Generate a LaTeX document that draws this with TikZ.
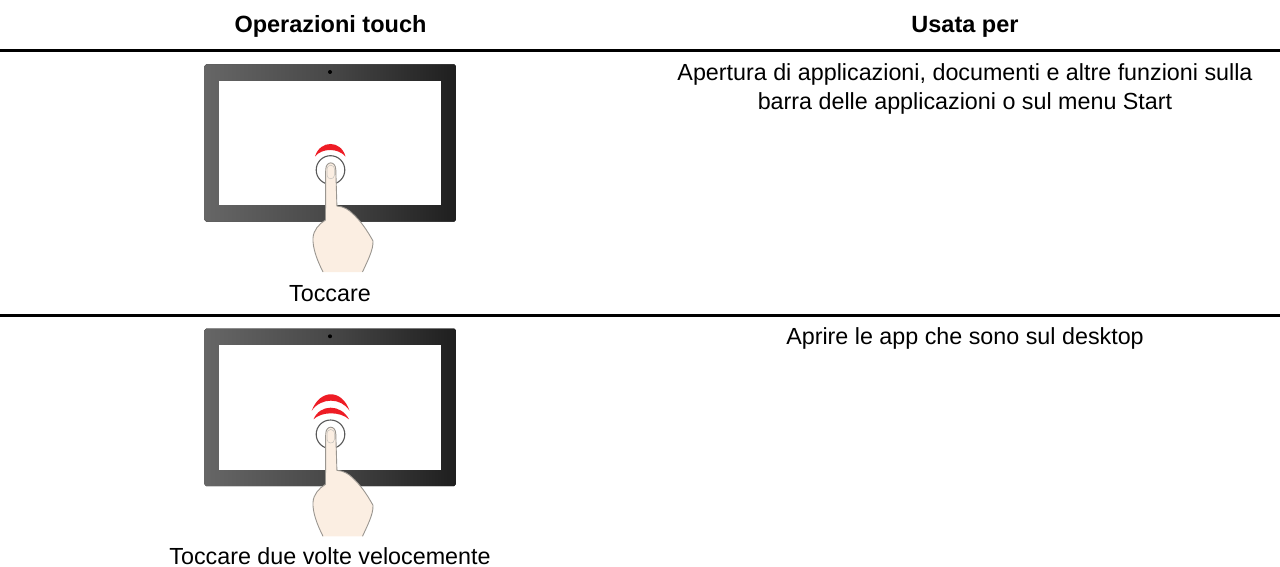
\documentclass[tikz,border=0pt]{standalone}
\usepackage{fontspec}
\setmainfont{Liberation Sans}
\definecolor{skin}{HTML}{FBEEE2}
\definecolor{skinline}{HTML}{9A9690}
\definecolor{redarc}{HTML}{EE1C25}
\tikzset{
  lbl/.style={font=\fontsize{23.3}{28}\selectfont, text=black, align=center, inner sep=0pt, anchor=base},
  hdr/.style={lbl, font=\fontsize{23.5}{28}\selectfont\bfseries},
  rulel/.style={line width=3pt, black},
  bezel/.style={rounded corners=1.5pt, left color=black!60, right color=black!88, middle color=black!72, draw=none},
  screen/.style={fill=white, draw=none},
  handp/.style={draw=skinline, line width=0.9pt, line join=round},
  ringp/.style={draw=black!65, line width=1.1pt, fill=white},
  crescent/.style={fill=redarc, draw=none}
}
\newcommand{\handpath}{(323,272) .. controls (317,260) and (312.5,248) .. (313,238)
      .. controls (313.5,230) and (319,224) .. (325.5,220)
      -- (325.7,170) .. controls (325.7,160.5) and (335.8,160.5) .. (335.8,170)
      -- (336.9,206) .. controls (344,206.5) and (349,210) .. (352,213)
      .. controls (360,220) and (367,230) .. (373,241)
      .. controls (373.5,250) and (367,262) .. (362.5,272)}
\newcommand{\tablet}[2]{%
  \begin{scope}[shift={(0,#1)}]
    \fill[bezel] (204.7,64.3) rectangle (455.7,221.7);
    \fill[screen] (219.3,81) rectangle (441,205.3);
    \fill[black] (330,72) circle (2);
    \draw[ringp] (330.5,170) circle (14.3);
    #2
    \fill[skin] \handpath -- cycle;
    \draw[handp] \handpath;
    \draw[draw=skinline!60, line width=0.5pt, fill=skin] (327,170) .. controls (327,163.5) and (334.5,163.5) .. (334.5,170) -- (334.5,175) .. controls (334.5,180) and (327,180) .. (327,175) -- cycle;
  \end{scope}}
\begin{document}
\begin{tikzpicture}[x=1pt,y=-1pt]
  \useasboundingbox (0,0) rectangle (1280,567);
  \node[hdr] (h1) at (330.5,32.7) {Operazioni touch};
  \node[hdr] (h2) at (965,32.7) {Usata per};
  \draw[rulel] (0,50.5) -- (1280,50.5);
  \tablet{0}{\fill[crescent] (315,156.5) .. controls (320,139.8) and (341,139.8) .. (345.5,156.5) .. controls (338,147.8) and (322,147.8) .. (315,156.5) -- cycle;}
  \node[lbl] (t1) at (330,301) {Toccare};
  \node[lbl] (u1) at (965,80.7) {Apertura di applicazioni, documenti e altre funzioni sulla};
  \node[lbl] (u1b) at (965,109.3) {barra delle applicazioni o sul menu Start};
  \draw[rulel] (0,315.5) -- (1280,315.5);
  \tablet{264.3}{%
    \fill[crescent] (313.5,155) .. controls (320,139.5) and (341,139.5) .. (349,155) .. controls (340,147) and (322,147) .. (313.5,155) -- cycle;
    \fill[crescent] (311.7,146.4) .. controls (320,124.5) and (342,124.5) .. (349.5,146.4) .. controls (341,133) and (321,133) .. (311.7,146.4) -- cycle;}
  \node[lbl] (t2) at (330,564.7) {Toccare due volte velocemente};
  \node[lbl] (u2) at (965,344.3) {Aprire le app che sono sul desktop};
\end{tikzpicture}
\end{document}
